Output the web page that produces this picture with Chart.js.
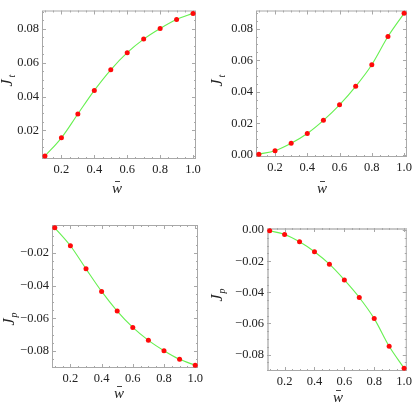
<!DOCTYPE html>
<html>
<head>
<meta charset="utf-8">
<script src="https://cdn.jsdelivr.net/npm/chart.js@4.4.0/dist/chart.umd.min.js"></script>
<style>
  html, body { margin: 0; padding: 0; background: #fff; }
  #wrap { position: relative; width: 415px; height: 415px; overflow: hidden; }
  #wrap canvas { position: absolute; }
</style>
</head>
<body>
<div id="wrap">
  <canvas id="c1"></canvas>
  <canvas id="c2"></canvas>
  <canvas id="c3"></canvas>
  <canvas id="c4"></canvas>
</div>
<script>
'use strict';

// w-bar sample points (same for all four panels)
const wBar = [0.1, 0.2, 0.3, 0.4, 0.5, 0.6, 0.7, 0.8, 0.9, 1.0];

// series
const jtConcave = [0.0048, 0.0156, 0.0297, 0.0436, 0.0558, 0.0659, 0.0739, 0.0802, 0.0855, 0.0891];
const jtConvex  = [0.0006, 0.0028, 0.0075, 0.0137, 0.0220, 0.0318, 0.0435, 0.0572, 0.0750, 0.0897];
const jpConvex  = [-0.0047, -0.0157, -0.0298, -0.0436, -0.0556, -0.0656, -0.0735, -0.0798, -0.0851, -0.0887];
const jpConcave = [-0.0004, -0.0028, -0.0075, -0.0139, -0.0219, -0.0320, -0.0433, -0.0569, -0.0747, -0.0888];

// tick labels
const xTicks = [0.2, 0.4, 0.6, 0.8, 1.0];
const yTicksA = [0.02, 0.04, 0.06, 0.08];
const yTicksB = [0.00, 0.02, 0.04, 0.06, 0.08];
const yTicksC = [-0.08, -0.06, -0.04, -0.02];
const yTicksD = [-0.08, -0.06, -0.04, -0.02, 0.00];

const FRAME = '#a8a8a8';
const FONT = '"Liberation Serif", "Times New Roman", serif';

// canvas box [left, top, w, h], plot area [L, T, R, B] in page pixels
const panels = [
    { id: 'c1', box: [0, 0, 207, 207], area: [42, 5, 196, 159], data: jtConcave, yMin: 0.0031, yMax: 0.0908,
      yTicks: yTicksA, sub: 't', jPos: [8, 83], wPos: [117, 189] },
    { id: 'c2', box: [207, 0, 208, 207], area: [256, 5, 409, 157], data: jtConvex, yMin: -0.0012, yMax: 0.0915,
      yTicks: yTicksB, sub: 't', jPos: [218, 83], wPos: [322, 189] },
    { id: 'c3', box: [0, 207, 207, 208], area: [52, 225, 198, 368], data: jpConvex, yMin: -0.0904, yMax: -0.0030,
      yTicks: yTicksC, sub: 'p', jPos: [10, 322], wPos: [119, 394] },
    { id: 'c4', box: [207, 207, 208, 208], area: [267, 228, 410, 371], data: jpConcave, yMin: -0.0906, yMax: 0.0014,
      yTicks: yTicksD, sub: 'p', jPos: [218, 298], wPos: [338, 398], thickEdge: true }
];

function fmt(v, digits) {
    const s = Math.abs(v).toFixed(digits);
    return v < -1e-9 ? '\u2212' + s : s;
}

function makeChart(p) {
    const [bx, by, bw, bh] = p.box;
    const [L, T, R, B] = p.area;
    const canvas = document.getElementById(p.id);
    canvas.width = bw; canvas.height = bh;
    canvas.style.left = bx + 'px'; canvas.style.top = by + 'px';
    canvas.style.width = bw + 'px'; canvas.style.height = bh + 'px';

    const points = wBar.map((w, i) => ({ x: w, y: p.data[i] }));

    const framePlugin = {
        id: 'mmaFrame',
        beforeDatasetsDraw(chart) {
            const ctx = chart.ctx;
            const a = chart.chartArea;
            const xs = chart.scales.x, ys = chart.scales.y;
            ctx.save();
            ctx.strokeStyle = FRAME;
            ctx.lineWidth = 1;
            ctx.strokeRect(a.left + 0.5, a.top + 0.5, a.right - a.left - 1, a.bottom - a.top - 1);
            if (p.thickEdge) {
                ctx.strokeStyle = '#c8c8c8';
                ctx.lineWidth = 2;
                ctx.beginPath();
                ctx.moveTo(a.left + 1, a.bottom); ctx.lineTo(a.left + 1, a.top + 1); ctx.lineTo(a.right, a.top + 1);
                ctx.stroke();
            }
            ctx.strokeStyle = FRAME;
            ctx.lineWidth = 1;
            ctx.beginPath();
            // x ticks: majors 0.2, minors 0.05
            for (let k = 0; k <= 20; k++) {
                const v = k * 0.05;
                if (v < xs.min || v > xs.max) continue;
                const len = k % 4 === 0 ? 4 : 2;
                const px = Math.round(xs.getPixelForValue(v)) + 0.5;
                ctx.moveTo(px, a.bottom); ctx.lineTo(px, a.bottom - len);
                ctx.moveTo(px, a.top); ctx.lineTo(px, a.top + len);
            }
            // y ticks: majors 0.02, minors 0.005
            for (let k = -20; k <= 20; k++) {
                const v = k * 0.005;
                if (v < ys.min || v > ys.max) continue;
                const len = k % 4 === 0 ? 4 : 2;
                const py = Math.round(ys.getPixelForValue(v)) + 0.5;
                ctx.moveTo(a.left, py); ctx.lineTo(a.left + len, py);
                ctx.moveTo(a.right, py); ctx.lineTo(a.right - len, py);
            }
            ctx.stroke();
            ctx.restore();
        },
        afterDraw(chart) {
            const ctx = chart.ctx;
            ctx.save();
            ctx.fillStyle = '#222';
            // rotated J with subscript
            ctx.translate(p.jPos[0] - bx, p.jPos[1] - by);
            ctx.rotate(-Math.PI / 2);
            ctx.textAlign = 'center';
            ctx.textBaseline = 'middle';
            ctx.font = 'italic 16px ' + FONT;
            ctx.fillText('J', 0, 0);
            ctx.font = 'italic 10px ' + FONT;
            ctx.fillText(p.sub, 7, 4);
            ctx.restore();

            ctx.save();
            ctx.fillStyle = '#222';
            ctx.strokeStyle = '#444';
            ctx.lineWidth = 1;
            const wx = p.wPos[0] - bx, wy = p.wPos[1] - by;
            ctx.textAlign = 'center';
            ctx.textBaseline = 'middle';
            ctx.font = 'italic 15px ' + FONT;
            ctx.fillText('w', wx, wy);
            ctx.beginPath();
            ctx.moveTo(wx - 2, wy - 7.5); ctx.lineTo(wx + 3, wy - 7.5);
            ctx.stroke();
            ctx.restore();
        }
    };

    return new Chart(canvas, {
        type: 'scatter',
        data: {
            datasets: [{
                data: points,
                showLine: true,
                borderColor: '#66f050',
                borderWidth: 1.1,
                cubicInterpolationMode: 'monotone',
                pointRadius: 2.5,
                pointBackgroundColor: '#ff0a0a',
                pointBorderWidth: 0,
                clip: false
            }]
        },
        options: {
            responsive: false,
            animation: false,
            events: [],
            layout: { padding: { left: 0, top: T - by, right: (bx + bw) - R, bottom: 0 } },
            plugins: { legend: { display: false }, tooltip: { enabled: false } },
            scales: {
                x: {
                    type: 'linear',
                    min: 0.082, max: 1.018,
                    grid: { display: false, drawTicks: false },
                    border: { display: false },
                    afterFit(s) { s.height = (by + bh) - B; },
                    afterBuildTicks(s) { s.ticks = xTicks.map(v => ({ value: v })); },
                    ticks: {
                        padding: 3,
                        color: '#222',
                        maxRotation: 0,
                        autoSkip: false,
                        font: { family: FONT, size: 12.5 },
                        callback: v => fmt(v, 1)
                    }
                },
                y: {
                    type: 'linear',
                    min: p.yMin, max: p.yMax,
                    grid: { display: false, drawTicks: false },
                    border: { display: false },
                    afterFit(s) { s.width = L - bx; },
                    afterBuildTicks(s) { s.ticks = p.yTicks.map(v => ({ value: v })); },
                    ticks: {
                        padding: 3,
                        color: '#222',
                        autoSkip: false,
                        font: { family: FONT, size: 12.5 },
                        callback: v => fmt(v, 2)
                    }
                }
            }
        },
        plugins: [framePlugin]
    });
}

panels.forEach(makeChart);
</script>
</body>
</html>
